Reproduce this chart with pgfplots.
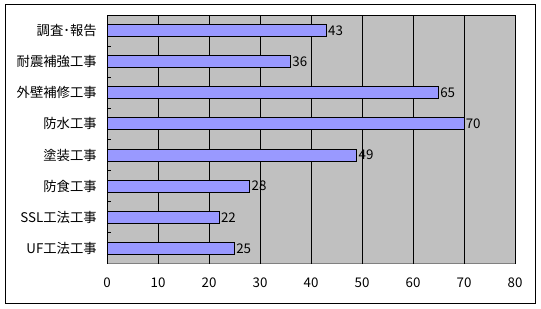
\documentclass[border=0pt]{standalone}
\usepackage{pgfplots}
\pgfplotsset{compat=1.18}
\usepackage{fontspec}
\setmainfont{Noto Sans CJK JP}
\definecolor{barfill}{HTML}{9999FF}
\definecolor{plotbg}{HTML}{C0C0C0}
\definecolor{plotedge}{HTML}{808080}
\begin{document}
\begin{tikzpicture}
\path[use as bounding box] (0,0) rectangle (405.75pt,231.75pt);
\draw[black, line width=0.75pt] (3.75pt,4.1pt) rectangle (401.6pt,228pt);
\begin{axis}[
  at={(80.25pt,33.75pt)}, anchor=south west,
  scale only axis, width=306pt, height=186.75pt,
  xbar, bar width=9pt,
  xmin=0, xmax=80, ymin=-0.5, ymax=7.5, y dir=reverse,
  xtick={0,10,...,80},
  ytick={0,...,7},
  yticklabels={調査･報告,耐震補強工事,外壁補修工事,防水工事,塗装工事,防食工事,SSL工法工事,UF工法工事},
  minor ytick={0.5,1.5,...,6.5},
  ytick pos=left, xtick pos=bottom,
  tick align=inside,
  major tick length=0pt, minor tick length=3pt,
  minor tick style={black, line width=0.75pt},
  xmajorgrids, major grid style={black, line width=0.75pt},
  axis line style={draw=none},
  axis background/.style={fill=plotbg, draw=plotedge, line width=0.75pt},
  /pgf/number format/assume math mode=true,
  tick label style={font=\fontsize{10}{12}\selectfont},
  yticklabel style={inner xsep=0pt, xshift=-7.5pt},
  xticklabel style={inner ysep=0pt, yshift=-10pt},
  nodes near coords,
  every node near coord/.append style={font=\fontsize{10}{12}\selectfont, inner xsep=1pt, black},
]
\addplot[fill=barfill, draw=black, line width=0.75pt] coordinates {
 (43,0) (36,1) (65,2) (70,3) (49,4) (28,5) (22,6) (25,7)};
\draw[black, line width=0.75pt] (rel axis cs:0,0) -- (rel axis cs:0,1);
\draw[black, line width=0.75pt] (rel axis cs:0,1) -- (rel axis cs:1,1);
\end{axis}
\end{tikzpicture}
\end{document}
